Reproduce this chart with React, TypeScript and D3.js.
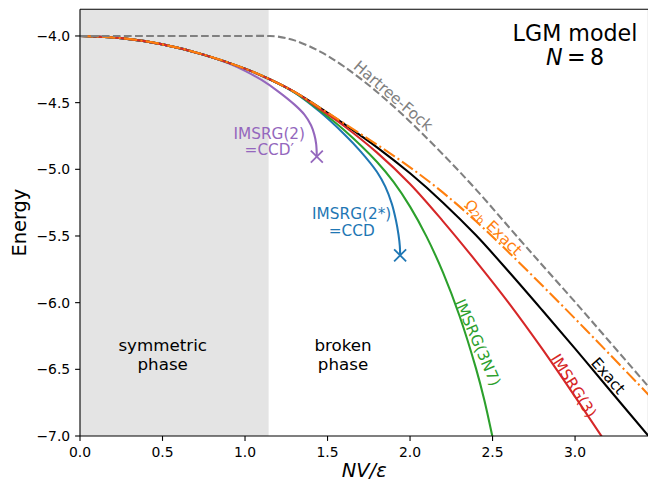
import React from 'react';
import * as d3 from 'd3';

const xTicks = [0, 0.5, 1.0, 1.5, 2.0, 2.5, 3.0];
const yTicks = [-7.0, -6.5, -6.0, -5.5, -5.0, -4.5, -4.0];

const hfX = [0, 0.5, 1.0, 1.143, 1.2, 1.3, 1.455, 1.6, 1.8, 2.0, 2.2, 2.4, 2.667, 2.829, 3.0, 3.2, 3.445];
const hfE = [-4.0, -4.0, -4.0, -4.0, -4.005, -4.033, -4.117, -4.229, -4.42, -4.643, -4.889, -5.152, -5.53, -5.757, -5.995, -6.28, -6.63];

const exactX = [0, 0.25, 0.5, 0.75, 1.0, 1.15, 1.3, 1.45, 1.6, 1.8, 2.0, 2.2, 2.4, 2.6, 2.8, 3.0, 3.2, 3.445];
const exactE = [-4.0, -4.016, -4.063, -4.14, -4.245, -4.325, -4.42, -4.535, -4.66, -4.835, -5.03, -5.25, -5.495, -5.77, -6.055, -6.345, -6.64, -7.0];

const omegaX = [0, 0.25, 0.5, 0.75, 1.0, 1.15, 1.3, 1.45, 1.6, 1.8, 2.0, 2.2, 2.4, 2.6, 2.8, 3.0, 3.2, 3.445];
const omegaE = [-4.0, -4.016, -4.063, -4.14, -4.245, -4.325, -4.42, -4.535, -4.655, -4.815, -4.985, -5.175, -5.39, -5.625, -5.87, -6.12, -6.375, -6.69];

const imsrg3X = [0, 0.25, 0.5, 0.75, 1.0, 1.15, 1.3, 1.45, 1.6, 1.8, 2.0, 2.2, 2.4, 2.6, 2.8, 3.0, 3.2];
const imsrg3E = [-4.0, -4.016, -4.063, -4.14, -4.245, -4.325, -4.42, -4.545, -4.675, -4.875, -5.11, -5.39, -5.69, -6.005, -6.345, -6.705, -7.075];

const imsrg3n7X = [0, 0.25, 0.5, 0.75, 1.0, 1.15, 1.3, 1.45, 1.6, 1.8, 1.9, 2.0, 2.1, 2.2, 2.3, 2.4, 2.45, 2.5, 2.52];
const imsrg3n7E = [-4.0, -4.016, -4.063, -4.14, -4.245, -4.325, -4.422, -4.555, -4.705, -4.945, -5.095, -5.28, -5.505, -5.775, -6.1, -6.495, -6.73, -7.01, -7.13];

const imsrg2sX = [0, 0.25, 0.5, 0.75, 1.0, 1.15, 1.3, 1.45, 1.6, 1.7, 1.8, 1.85, 1.89, 1.915, 1.93, 1.938, 1.94];
const imsrg2sE = [-4.0, -4.016, -4.063, -4.14, -4.245, -4.327, -4.425, -4.565, -4.735, -4.865, -5.02, -5.13, -5.26, -5.385, -5.49, -5.575, -5.645];

const imsrg2X = [0, 0.25, 0.5, 0.75, 0.9, 1.0, 1.1, 1.2, 1.3, 1.36, 1.4, 1.42, 1.431, 1.435];
const imsrg2E = [-4.0, -4.016, -4.063, -4.14, -4.205, -4.262, -4.33, -4.415, -4.515, -4.59, -4.67, -4.74, -4.81, -4.905];

const symmetricEnd = 1.143;

const W = 648, H = 481;
const L = 80, R = 648.5, T = 9.3, B = 436;
const FONT = 'DejaVu Sans, sans-serif';

export default function App() {
  const x = d3.scaleLinear().domain([0, 3.445]).range([L, R]);
  const y = d3.scaleLinear().domain([-7, -3.8]).range([B, T]);
  const mk = (xs: number[], es: number[]) =>
    d3.line<[number, number]>()
      .x(d => x(d[0]))
      .y(d => y(d[1]))
      .curve(d3.curveCatmullRom.alpha(0.5))(d3.zip(xs, es) as [number, number][]) || '';

  const lw = 2.08;
  const cross = (cx: number, cy: number, color: string) => {
    const px = x(cx), py = y(cy), s = 6;
    return (
      <g stroke={color} strokeWidth={1.8}>
        <line x1={px - s} y1={py - s} x2={px + s} y2={py + s} />
        <line x1={px - s} y1={py + s} x2={px + s} y2={py - s} />
      </g>
    );
  };
  const rotLabel = (tx: number, te: number, ang: number, color: string, content: React.ReactNode) => (
    <text transform={`translate(${x(tx)},${y(te)}) rotate(${ang})`} textAnchor="middle" dominantBaseline="central"
      fill={color} fontSize={15.3} fontFamily={FONT}>{content}</text>
  );

  return (
    <svg width={W} height={H} style={{ position: 'absolute', left: 0, top: 0, background: '#fff' }}>
      <defs>
        <clipPath id="pa"><rect x={L} y={T} width={R - L} height={B - T} /></clipPath>
      </defs>
      <rect x={0} y={0} width={W} height={H} fill="#fff" />
      <rect x={x(0)} y={T} width={x(symmetricEnd) - x(0)} height={B - T} fill="#e4e4e4" />
      <g clipPath="url(#pa)" fill="none" strokeLinejoin="round">
        <path d={mk(exactX, exactE)} stroke="#000" strokeWidth={lw} />
        <path d={mk(imsrg2X, imsrg2E)} stroke="#9467bd" strokeWidth={lw} />
        <path d={mk(imsrg2sX, imsrg2sE)} stroke="#1f77b4" strokeWidth={lw} />
        <path d={mk(imsrg3n7X, imsrg3n7E)} stroke="#2ca02c" strokeWidth={lw} />
        <path d={mk(imsrg3X, imsrg3E)} stroke="#d62728" strokeWidth={lw} />
        <path d={mk(omegaX, omegaE)} stroke="#ff7f0e" strokeWidth={lw} strokeDasharray="13.3,3.3,2.1,3.3" />
        <path d={mk(hfX, hfE)} stroke="#808080" strokeWidth={2.08} strokeDasharray="7.7,3.3" />
        {cross(imsrg2X[imsrg2X.length - 1], imsrg2E[imsrg2E.length - 1], '#9467bd')}
        {cross(imsrg2sX[imsrg2sX.length - 1], imsrg2sE[imsrg2sE.length - 1], '#1f77b4')}
      </g>

      <g stroke="#000" strokeWidth={1.1} fill="none">
        <line x1={L} y1={T} x2={L} y2={B} />
        <line x1={L} y1={B} x2={R} y2={B} />
        <line x1={L} y1={T} x2={R} y2={T} />
        <line x1={R} y1={T} x2={R} y2={B} />
      </g>
      <g stroke="#000" strokeWidth={1.1}>
        {xTicks.map(t => <line key={'xt' + t} x1={x(t)} x2={x(t)} y1={B} y2={B + 4.9} />)}
        {yTicks.map(t => <line key={'yt' + t} x1={L - 4.9} x2={L} y1={y(t)} y2={y(t)} />)}
      </g>
      <g fontFamily={FONT} fontSize={13.9} fill="#000">
        {xTicks.map(t => <text key={'xl' + t} x={x(t)} y={457} textAnchor="middle">{t.toFixed(1)}</text>)}
        {yTicks.map(t => <text key={'yl' + t} x={L - 9.8} y={y(t)} textAnchor="end" dominantBaseline="central">{'\u2212' + Math.abs(t).toFixed(1)}</text>)}
      </g>
      <text x={(L + R) / 2} y={477} textAnchor="middle" fontFamily={FONT} fontSize={19.4} fontStyle="italic">NV/ε</text>
      <text transform={`translate(26,${(T + B) / 2}) rotate(-90)`} textAnchor="middle" fontFamily={FONT} fontSize={19.4}>Energy</text>

      <g fontFamily={FONT} fontSize={22.2} textAnchor="middle" fill="#000">
        <text x={575} y={40.7}>LGM model</text>
        <text x={575} y={65}><tspan fontStyle="italic">N</tspan>{'\u2009=\u20098'}</text>
      </g>

      <g fontFamily={FONT} fontSize={16.7} textAnchor="middle" fill="#000">
        <text x={x(0.501)} y={351}>symmetric</text>
        <text x={x(0.501)} y={370}>phase</text>
        <text x={x(1.594)} y={351}>broken</text>
        <text x={x(1.594)} y={370}>phase</text>
      </g>

      <g fontFamily={FONT} fontSize={15.3} textAnchor="middle">
        <text x={269.3} y={138.5} fill="#9467bd">IMSRG(2)</text>
        <text x={269.3} y={155} fill="#9467bd">=CCD′</text>
        <text x={351.7} y={219.3} fill="#1f77b4">IMSRG(2*)</text>
        <text x={351.7} y={236} fill="#1f77b4">=CCD</text>
      </g>
      {rotLabel(1.897, -4.45, 40.5, '#808080', 'Hartree-Fock')}
      {rotLabel(2.503, -5.437, 44, '#ff7f0e', <>
        <tspan>Ω</tspan><tspan fontSize={10.7} dy={3}>2b</tspan><tspan dy={-3}> Exact</tspan>
      </>)}
      {rotLabel(3.2, -6.55, 49, '#000', 'Exact')}
      {rotLabel(2.99, -6.624, 58, '#d62728', 'IMSRG(3)')}
      {rotLabel(2.409, -6.3, 66.5, '#2ca02c', 'IMSRG(3N7)')}
    </svg>
  );
}
